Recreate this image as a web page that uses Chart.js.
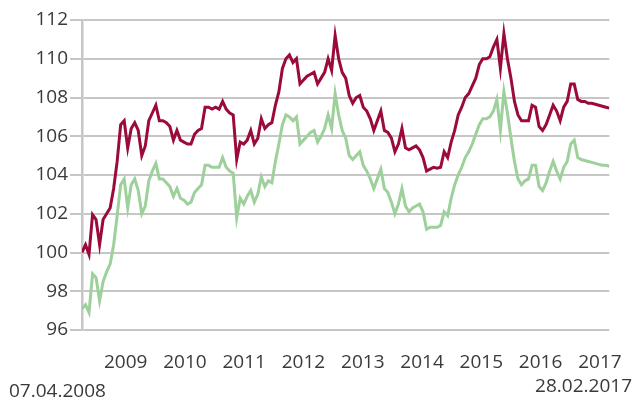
<!DOCTYPE html>
<html>
<head>
<meta charset="utf-8">
<script src="https://cdn.jsdelivr.net/npm/chart.js@4.4.1/dist/chart.umd.min.js"></script>
<style>
  html, body { margin: 0; padding: 0; background: #fff; }
  #wrap { position: relative; width: 635px; height: 401px; }
</style>
</head>
<body>
<div id="wrap"><canvas id="chart" width="635" height="401"></canvas></div>
<script>
// first and last observation
const startDate = '2008-04-07';
const endDate = '2017-02-28';
const startLabel = '07.04.2008';
const endLabel = '28.02.2017';

// year ticks on the x axis
const yearTicks = [2009, 2010, 2011, 2012, 2013, 2014, 2015, 2016, 2017];

// y axis ticks
const yTicks = [96, 98, 100, 102, 104, 106, 108, 110, 112];

// series sampled evenly between startDate and endDate
const redValues = [
  100.0, 100.4, 99.9, 101.95, 101.7, 100.4, 101.7, 102.0, 102.3, 103.3,
  104.7, 106.6, 106.8, 105.4, 106.4, 106.7, 106.3, 105.0, 105.5, 106.8,
  107.2, 107.6, 106.8, 106.8, 106.7, 106.5, 105.8, 106.3, 105.8, 105.7,
  105.6, 105.6, 106.1, 106.3, 106.4, 107.5, 107.5, 107.4, 107.5, 107.4,
  107.8, 107.4, 107.2, 107.1, 104.8, 105.7, 105.6, 105.8, 106.3, 105.6,
  105.9, 106.9, 106.4, 106.6, 106.7, 107.6, 108.3, 109.5, 110.0, 110.2,
  109.8, 110.0, 108.7, 108.9, 109.1, 109.2, 109.3, 108.7, 109.0, 109.3,
  110.0, 109.4, 111.2, 110.0, 109.3, 109.0, 108.1, 107.7, 108.0, 108.1,
  107.5, 107.3, 106.9, 106.3, 106.8, 107.3, 106.3, 106.2, 105.9, 105.2,
  105.6, 106.4, 105.4, 105.3, 105.4, 105.5, 105.3, 104.9, 104.2, 104.3,
  104.4, 104.35, 104.4, 105.2, 104.9, 105.7, 106.3, 107.1, 107.5, 108.0,
  108.2, 108.6, 109.0, 109.7, 110.0, 110.0, 110.1, 110.6, 111.0, 109.5,
  111.3, 110.0, 109.0, 107.8, 107.1, 106.8, 106.8, 106.8, 107.6, 107.5,
  106.5, 106.3, 106.6, 107.1, 107.6, 107.3, 106.8, 107.5, 107.8, 108.7,
  108.7, 107.9, 107.8, 107.8, 107.7, 107.7, 107.65, 107.6, 107.55, 107.5,
  107.45
];

const greenValues = [
  97.1, 97.3, 96.9, 98.9, 98.7, 97.5, 98.5, 99.0, 99.4, 100.4,
  101.9, 103.5, 103.8, 102.3, 103.5, 103.8, 103.2, 102.0, 102.4, 103.7,
  104.2, 104.6, 103.8, 103.8, 103.6, 103.4, 102.9, 103.3, 102.8, 102.7,
  102.5, 102.6, 103.1, 103.3, 103.5, 104.5, 104.5, 104.4, 104.4, 104.4,
  104.9, 104.4, 104.2, 104.1, 101.8, 102.8, 102.5, 102.9, 103.2, 102.6,
  103.0, 103.9, 103.4, 103.7, 103.6, 104.7, 105.6, 106.6, 107.1, 107.0,
  106.8, 107.0, 105.6, 105.8, 106.0, 106.2, 106.3, 105.7, 106.0, 106.4,
  107.1, 106.4, 108.2, 107.1, 106.3, 105.9, 105.0, 104.8, 105.0, 105.2,
  104.5, 104.2, 103.8, 103.3, 103.8, 104.3, 103.3, 103.1, 102.6, 102.0,
  102.5, 103.3, 102.4, 102.1, 102.3, 102.4, 102.5, 102.1, 101.2, 101.3,
  101.3, 101.3, 101.4, 102.1, 101.9, 102.8, 103.5, 104.0, 104.4, 104.9,
  105.2, 105.6, 106.1, 106.6, 106.9, 106.9, 107.0, 107.3, 107.9, 106.3,
  108.3, 107.2, 105.9, 104.7, 103.8, 103.5, 103.7, 103.8, 104.5, 104.5,
  103.4, 103.2, 103.6, 104.2, 104.7, 104.2, 103.8, 104.4, 104.7, 105.6,
  105.8, 104.9, 104.8, 104.75, 104.7, 104.65, 104.6, 104.55, 104.5, 104.5,
  104.45
];

const DAY = 86400000;
const t0 = Date.parse(startDate);
const spanDays = (Date.parse(endDate) - t0) / DAY;

// x in days since the first observation
const toPoints = (values) => values.map((v, i) => ({ x: i * spanDays / (values.length - 1), y: v }));
const yearOffset = (year) => (Date.UTC(year, 0, 1) - t0) / DAY;

const textColor = '#3a3a3a';
const gridColor = '#c6c6c6';
const fontFamily = '"Open Sans", sans-serif';

// start / end date labels under the axis
const dateLabels = {
  id: 'dateLabels',
  afterDraw(chart) {
    const ctx = chart.ctx;
    ctx.save();
    ctx.fillStyle = textColor;
    ctx.font = '19px ' + fontFamily;
    ctx.textBaseline = 'middle';
    ctx.textAlign = 'left';
    ctx.fillText(startLabel, 9, 392);
    ctx.textAlign = 'right';
    ctx.fillText(endLabel, 632, 387);
    ctx.restore();
  }
};

new Chart(document.getElementById('chart'), {
  type: 'line',
  data: {
    datasets: [
      {
        data: toPoints(greenValues),
        borderColor: '#9dd09a',
        borderWidth: 3,
        pointRadius: 0,
        tension: 0
      },
      {
        data: toPoints(redValues),
        borderColor: '#9a0a3a',
        borderWidth: 3,
        pointRadius: 0,
        tension: 0
      }
    ]
  },
  options: {
    responsive: false,
    animation: false,
    layout: { padding: { left: 0, right: 17, top: 20, bottom: 0 } },
    plugins: { legend: { display: false }, tooltip: { enabled: false } },
    scales: {
      x: {
        type: 'linear',
        min: 0,
        max: spanDays,
        afterBuildTicks: (scale) => { scale.ticks = yearTicks.map(y => ({ value: yearOffset(y) })); },
        afterFit: (scale) => { scale.height = 71; },
        grid: { display: false },
        border: { display: false },
        ticks: {
          padding: 13,
          maxRotation: 0,
          autoSkip: false,
          color: textColor,
          font: { family: fontFamily, size: 19 },
          callback: (value) => {
            const y = yearTicks.find(yr => Math.abs(yearOffset(yr) - value) < 1);
            return y ? String(y) : '';
          }
        }
      },
      y: {
        min: 96,
        max: 112,
        afterBuildTicks: (scale) => { scale.ticks = yTicks.map(v => ({ value: v })); },
        afterFit: (scale) => { scale.width = 82; },
        grid: { color: gridColor, lineWidth: 2, tickLength: 12 },
        border: { color: gridColor, width: 2.5 },
        ticks: {
          padding: 2,
          color: textColor,
          font: { family: fontFamily, size: 19 }
        }
      }
    }
  },
  plugins: [dateLabels]
});
</script>
</body>
</html>
